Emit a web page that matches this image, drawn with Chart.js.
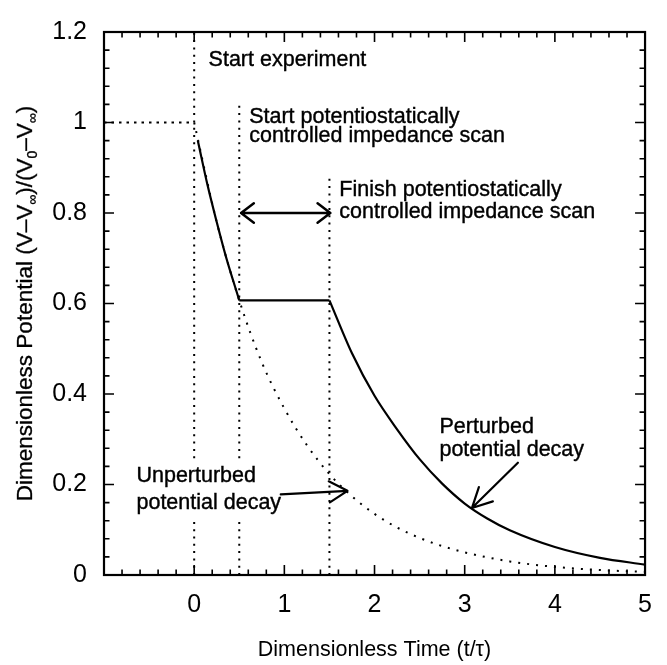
<!DOCTYPE html>
<html lang="en">
<head>
<meta charset="UTF-8">
<title>Potential Decay</title>
<script src="https://cdn.jsdelivr.net/npm/chart.js"></script>
<style>
    body { margin: 0; background: #fff; }
    #wrap { width: 667px; height: 665px; }
</style>
</head>
<body>
<div id="wrap"><canvas id="decayChart" width="667" height="665"></canvas></div>
<script>
    // Tick labels
    const xMajorTicks = [-1, 0, 1, 2, 3, 4, 5];
    const xTickLabels = ['', '0', '1', '2', '3', '4', '5'];
    const yMajorTicks = [0, 0.2, 0.4, 0.6, 0.8, 1, 1.2];
    const yTickLabels = ['0', '0.2', '0.4', '0.6', '0.8', '1', '1.2'];
    const minorSteps = 5;

    // Unperturbed decay (dotted)
    const unperturbedTime = [0, 0.25, 0.5, 0.75, 1, 1.25, 1.5, 1.75, 2, 2.25, 2.5, 2.75, 3, 3.5, 4, 4.5, 5];
    const unperturbedPotential = [1, 0.78, 0.607, 0.47, 0.368, 0.287, 0.223, 0.174, 0.135, 0.105, 0.082, 0.064, 0.05, 0.03, 0.018, 0.011, 0.007];

    // Perturbed decay (solid): decay, hold during scan, decay again
    const decayTime = [0.04, 0.15, 0.25, 0.35, 0.5];
    const decayPotential = [0.96, 0.86, 0.78, 0.705, 0.607];
    const holdTime = [0.5, 1.5];
    const holdPotential = [0.607, 0.607];
    const releaseTime = [1.5, 1.75, 2, 2.25, 2.5, 2.75, 3, 3.25, 3.5, 4, 4.5, 5];
    const releasePotential = [0.607, 0.49, 0.396, 0.322, 0.256, 0.202, 0.158, 0.125, 0.099, 0.062, 0.038, 0.023];

    // Initial level before the experiment starts
    const initialTime = [-1, 0];
    const initialPotential = [1, 1];

    // Event markers: start experiment, start scan, finish scan
    const eventTime = [0, 0.5, 1.5];
    const eventTop = [1.2, 1.04, 0.88];

    const FONT = "'Liberation Sans', Arial, sans-serif";

    function toPoints(xs, ys) {
        return xs.map((x, i) => ({ x: x, y: ys[i] }));
    }

    // major + minor ticks between the majors
    function buildTicks(majors, labels) {
        const ticks = [];
        majors.forEach((v, i) => {
            ticks.push({ value: v, major: true, text: labels[i] });
            if (i < majors.length - 1) {
                const step = (majors[i + 1] - v) / minorSteps;
                for (let k = 1; k < minorSteps; k++) {
                    ticks.push({ value: v + k * step, major: false, text: '' });
                }
            }
        });
        return ticks;
    }

    const dotted = { borderColor: '#000', borderWidth: 2, borderDash: [2, 5.3], pointRadius: 0, showLine: true, fill: false };
    const solid = { borderColor: '#000', borderWidth: 2.2, pointRadius: 0, showLine: true, fill: false, cubicInterpolationMode: 'monotone' };

    const datasets = [
        Object.assign({}, dotted, { data: toPoints(initialTime, initialPotential), borderDash: [2.5, 5] }),
        Object.assign({}, dotted, { data: toPoints(unperturbedTime, unperturbedPotential), borderDash: [2, 7], cubicInterpolationMode: 'monotone' })
    ];
    eventTime.forEach((t, i) => {
        datasets.push(Object.assign({}, dotted, { data: toPoints([t, t], [0, eventTop[i]]) }));
    });
    datasets.push(Object.assign({}, solid, { data: toPoints(decayTime, decayPotential) }));
    datasets.push(Object.assign({}, solid, { data: toPoints(holdTime, holdPotential) }));
    datasets.push(Object.assign({}, solid, { data: toPoints(releaseTime, releasePotential) }));

    // Text notes and arrows, placed in data units
    const notes = [
        { lines: ['Start experiment'], x: 0.16, y: [1.124] },
        { lines: ['Start potentiostatically', 'controlled impedance scan'], x: 0.61, y: [1.0, 0.957] },
        { lines: ['Finish potentiostatically', 'controlled impedance scan'], x: 1.61, y: [0.838, 0.788] },
        { lines: ['Unperturbed', 'potential decay'], x: -0.64, y: [0.206, 0.145], knockout: true },
        { lines: ['Perturbed', 'potential decay'], x: 2.72, y: [0.314, 0.262] }
    ];
    const arrows = [
        { from: [0.52, 0.8], to: [1.51, 0.8], both: true, head: 16, spread: 37, width: 2.5 },
        { from: [0.96, 0.178], to: [1.70, 0.186], head: 21, spread: 30, width: 2.2 },
        { from: [3.59, 0.248], to: [3.08, 0.148], head: 22, spread: 27, width: 2.2 }
    ];

    function drawHead(ctx, tipX, tipY, fromX, fromY, len, spread) {
        const ang = Math.atan2(fromY - tipY, fromX - tipX);
        const s = spread * Math.PI / 180;
        ctx.moveTo(tipX + len * Math.cos(ang - s), tipY + len * Math.sin(ang - s));
        ctx.lineTo(tipX, tipY);
        ctx.lineTo(tipX + len * Math.cos(ang + s), tipY + len * Math.sin(ang + s));
    }

    // Box with inward ticks on all four sides
    const framePlugin = {
        id: 'frame',
        afterDatasetsDraw(chart) {
            const { ctx, chartArea: a, scales: { x, y } } = chart;
            ctx.save();
            ctx.strokeStyle = '#000';
            ctx.lineWidth = 1.6;
            ctx.beginPath();
            x.ticks.forEach(t => {
                const px = x.getPixelForValue(t.value);
                const len = t.major ? 10 : 5.5;
                ctx.moveTo(px, a.bottom); ctx.lineTo(px, a.bottom - len);
                ctx.moveTo(px, a.top); ctx.lineTo(px, a.top + len);
            });
            y.ticks.forEach(t => {
                const py = y.getPixelForValue(t.value);
                const len = t.major ? 10 : 5.5;
                ctx.moveTo(a.left, py); ctx.lineTo(a.left + len, py);
                ctx.moveTo(a.right, py); ctx.lineTo(a.right - len, py);
            });
            ctx.stroke();
            ctx.lineWidth = 2.2;
            ctx.strokeRect(a.left, a.top, a.right - a.left, a.bottom - a.top);
            ctx.restore();
        }
    };

    const notesPlugin = {
        id: 'notes',
        afterDatasetsDraw(chart) {
            const { ctx, scales: { x, y } } = chart;
            ctx.save();
            ctx.font = '21.5px ' + FONT;
            ctx.fillStyle = '#000';
            ctx.strokeStyle = '#000';
            ctx.lineWidth = 0.4;
            ctx.textBaseline = 'alphabetic';
            ctx.textAlign = 'left';
            notes.forEach(n => {
                const px = x.getPixelForValue(n.x);
                if (n.knockout) {
                    const w = Math.max(...n.lines.map(l => ctx.measureText(l).width));
                    const top = y.getPixelForValue(n.y[0]) - 21;
                    const bottom = y.getPixelForValue(n.y[n.y.length - 1]) + 9;
                    ctx.fillStyle = '#fff';
                    ctx.fillRect(px - 4, top, w + 8, bottom - top);
                    ctx.fillStyle = '#000';
                }
                n.lines.forEach((line, i) => {
                    const py = y.getPixelForValue(n.y[i]);
                    ctx.fillText(line, px, py);
                    ctx.strokeText(line, px, py);
                });
            });

            ctx.lineCap = 'round';
            ctx.lineJoin = 'round';
            arrows.forEach(a => {
                const x0 = x.getPixelForValue(a.from[0]), y0 = y.getPixelForValue(a.from[1]);
                const x1 = x.getPixelForValue(a.to[0]), y1 = y.getPixelForValue(a.to[1]);
                ctx.lineWidth = a.width;
                ctx.beginPath();
                ctx.moveTo(x0, y0);
                ctx.lineTo(x1, y1);
                drawHead(ctx, x1, y1, x0, y0, a.head, a.spread);
                if (a.both) drawHead(ctx, x0, y0, x1, y1, a.head, a.spread);
                ctx.stroke();
            });
            ctx.restore();
        }
    };

    // Rotated y axis title with subscripts
    const yTitleParts = [
        ['Dimensionless Potential (V\u2013V', false], ['\u221E', true], [')/(V', false],
        ['0', true], ['\u2013V', false], ['\u221E', true], [')', false]
    ];
    const yTitlePlugin = {
        id: 'yTitle',
        afterDraw(chart) {
            const { ctx, chartArea: a } = chart;
            const big = '22.5px ' + FONT, small = '14px ' + FONT;
            ctx.save();
            ctx.fillStyle = '#000';
            ctx.strokeStyle = '#000';
            ctx.lineWidth = 0.3;
            ctx.textBaseline = 'alphabetic';
            let total = 0;
            yTitleParts.forEach(p => { ctx.font = p[1] ? small : big; total += ctx.measureText(p[0]).width; });
            ctx.translate(32, (a.top + a.bottom) / 2);
            ctx.rotate(-Math.PI / 2);
            let cx = -total / 2;
            yTitleParts.forEach(p => {
                ctx.font = p[1] ? small : big;
                const dy = p[1] ? 5 : 0;
                ctx.fillText(p[0], cx, dy);
                ctx.strokeText(p[0], cx, dy);
                cx += ctx.measureText(p[0]).width;
            });
            ctx.restore();
        }
    };

    const tickFont = { family: FONT, size: 25 };

    new Chart(document.getElementById('decayChart'), {
        type: 'scatter',
        data: { datasets: datasets },
        options: {
            responsive: false,
            animation: false,
            layout: { padding: { top: 21, right: 10, left: 0, bottom: 0 } },
            plugins: { legend: { display: false }, tooltip: { enabled: false } },
            scales: {
                x: {
                    type: 'linear', min: -1, max: 5,
                    afterBuildTicks: s => { s.ticks = buildTicks(xMajorTicks, xTickLabels); },
                    afterFit: s => { s.height = 90; },
                    grid: { display: false, drawTicks: false },
                    border: { display: false },
                    ticks: {
                        autoSkip: false, maxRotation: 0, padding: 15, color: '#000', font: tickFont,
                        callback: (v, i, ticks) => ticks[i].text
                    },
                    title: {
                        display: true, text: 'Dimensionless Time (t/\u03C4)', color: '#000',
                        font: { family: FONT, size: 21.5 }, padding: { top: 0, bottom: 2 }
                    }
                },
                y: {
                    type: 'linear', min: 0, max: 1.2,
                    afterBuildTicks: s => { s.ticks = buildTicks(yMajorTicks, yTickLabels); },
                    afterFit: s => { s.width = 104; },
                    grid: { display: false, drawTicks: false },
                    border: { display: false },
                    ticks: {
                        autoSkip: false, padding: 17, color: '#000', font: tickFont,
                        callback: (v, i, ticks) => ticks[i].text
                    }
                }
            }
        },
        plugins: [framePlugin, notesPlugin, yTitlePlugin]
    });
</script>
</body>
</html>
